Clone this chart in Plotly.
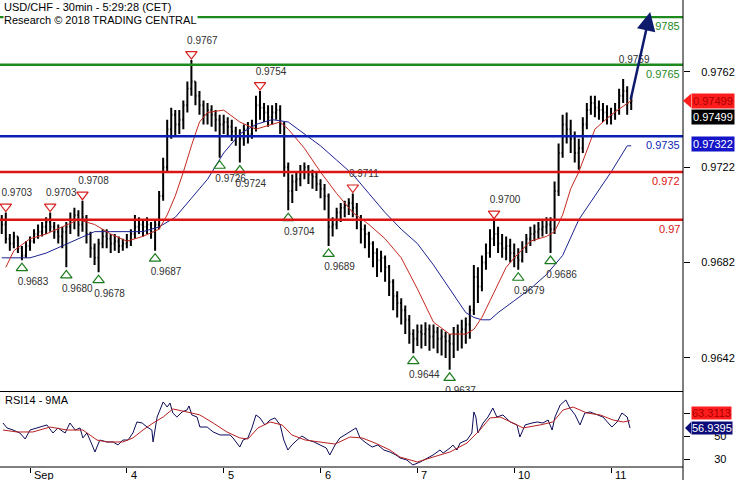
import plotly.graph_objects as go

# ---------------- data (hourly bars, index 0 = 3 Sep 00:00) ----------------
bar_idx = list(range(-7, 150))
first_open_pips = 9700
close_pips = [9698, 9692, 9690, 9693, 9688, 9685, 9689, 9691, 9694, 9695,
              9697, 9699, 9697, 9695, 9693, 9695, 9697, 9700, 9702, 9698,
              9701, 9694, 9688, 9684, 9690, 9693, 9692, 9690, 9691, 9689,
              9690, 9691, 9694, 9697, 9698, 9697, 9698, 9695, 9698, 9710,
              9722, 9738, 9744, 9740, 9742, 9748, 9755, 9758, 9752, 9748,
              9744, 9746, 9744, 9742, 9740, 9741, 9739, 9737, 9735, 9734,
              9738, 9736, 9739, 9748, 9747, 9745, 9743, 9745, 9746, 9740,
              9722, 9712, 9716, 9717, 9720, 9722, 9719, 9718, 9715, 9713,
              9710, 9697, 9698, 9703, 9705, 9706, 9707, 9705, 9700, 9696,
              9694, 9690, 9686, 9683, 9684, 9680, 9674, 9668, 9665, 9662,
              9658, 9652, 9650, 9653, 9652, 9654, 9651, 9653, 9650, 9651,
              9649, 9648, 9652, 9653, 9654, 9656, 9662, 9676, 9672, 9682,
              9686, 9692, 9694, 9690, 9688, 9689, 9686, 9684, 9683, 9688,
              9692, 9694, 9695, 9696, 9697, 9698, 9696, 9712, 9728, 9740,
              9738, 9734, 9728, 9730, 9740, 9746, 9749, 9747, 9746, 9745,
              9743, 9744, 9746, 9752, 9754, 9749, 9749.9]
high_pips = [9702, 9703, 9694, 9695, 9693, 9689, 9691, 9693, 9696, 9698,
             9699, 9701, 9703, 9699, 9698, 9697, 9699, 9703, 9705, 9704,
             9708, 9702, 9695, 9690, 9692, 9696, 9696, 9694, 9694, 9693,
             9692, 9694, 9696, 9702, 9701, 9700, 9701, 9699, 9700, 9712,
             9726, 9742, 9747, 9746, 9746, 9750, 9758, 9767, 9758, 9754,
             9750, 9749, 9748, 9746, 9744, 9744, 9743, 9742, 9739, 9738,
             9740, 9741, 9742, 9752, 9754, 9749, 9748, 9748, 9749, 9748,
             9741, 9724, 9719, 9720, 9723, 9724, 9723, 9721, 9720, 9717,
             9715, 9711, 9701, 9705, 9707, 9708, 9709, 9711, 9707, 9702,
             9698, 9695, 9691, 9688, 9687, 9685, 9681, 9675, 9670, 9667,
             9664, 9660, 9654, 9656, 9656, 9657, 9656, 9656, 9655, 9654,
             9653, 9652, 9655, 9656, 9658, 9659, 9664, 9681, 9680, 9685,
             9690, 9696, 9700, 9697, 9694, 9693, 9692, 9690, 9688, 9691,
             9694, 9697, 9698, 9699, 9700, 9701, 9701, 9716, 9732, 9744,
             9745, 9742, 9737, 9734, 9743, 9749, 9752, 9752, 9750, 9749,
             9748, 9747, 9749, 9755, 9759, 9756, 9752]
low_pips = [9694, 9690, 9687, 9688, 9686, 9683, 9684, 9687, 9690, 9692,
            9693, 9694, 9695, 9692, 9690, 9688, 9680, 9694, 9696, 9693,
            9695, 9690, 9684, 9681, 9678, 9688, 9688, 9686, 9687, 9686,
            9687, 9688, 9689, 9692, 9694, 9693, 9694, 9692, 9687, 9696,
            9708, 9720, 9734, 9735, 9736, 9738, 9745, 9752, 9748, 9744,
            9740, 9740, 9739, 9737, 9726, 9736, 9735, 9733, 9731, 9724,
            9731, 9732, 9734, 9737, 9742, 9741, 9739, 9740, 9742, 9736,
            9718, 9704, 9707, 9712, 9714, 9717, 9715, 9713, 9712, 9709,
            9704, 9689, 9693, 9696, 9699, 9701, 9702, 9701, 9696, 9690,
            9688, 9684, 9680, 9676, 9678, 9674, 9668, 9662, 9659, 9656,
            9652, 9648, 9644, 9647, 9646, 9647, 9645, 9646, 9644, 9643,
            9642, 9637, 9642, 9645, 9646, 9648, 9650, 9660, 9665, 9670,
            9679, 9684, 9689, 9686, 9684, 9683, 9682, 9680, 9679, 9682,
            9686, 9689, 9691, 9692, 9693, 9694, 9686, 9694, 9710, 9726,
            9732, 9728, 9724, 9721, 9728, 9738, 9744, 9743, 9742, 9741,
            9740, 9740, 9742, 9744, 9749, 9744, 9746]

# moving averages drawn on price
fast_ma_x = [-6, -4, 0, 4, 8, 12, 16, 20, 24, 28, 32, 34, 36, 38, 40, 42, 44, 48, 52, 56,
             60, 62, 64, 68, 72, 76, 80, 84, 88, 92, 96, 100, 104, 108, 110, 112, 114, 116,
             118, 120, 124, 128, 130, 132, 134, 136, 138, 140, 144, 148, 149]
fast_ma = [0.9680, 0.9687, 0.9692, 0.9694, 0.9697, 0.9700, 0.9698, 0.9694, 0.9691, 0.9693,
           0.9696, 0.9702, 0.9710, 0.9720, 0.9731, 0.9741, 0.9745, 0.9746, 0.9741, 0.9738,
           0.9740, 0.9741, 0.9738, 0.9730, 0.9720, 0.9711, 0.9703, 0.9698, 0.9692, 0.9684,
           0.9671, 0.9657, 0.9652, 0.9652, 0.9654, 0.9659, 0.9666, 0.9673, 0.9680, 0.9684,
           0.9691, 0.9693, 0.9695, 0.9702, 0.9713, 0.9720, 0.9729, 0.9738, 0.9744, 0.9749,
           0.9750]
slow_ma_x = [-7, -4, 0, 4, 8, 12, 16, 20, 24, 28, 32, 36, 40, 44, 48, 52, 56, 60, 64, 68,
             72, 76, 80, 84, 88, 92, 96, 100, 104, 108, 110, 112, 114, 116, 120, 124, 128,
             132, 136, 140, 144, 148, 149]
slow_ma = [0.9684, 0.9684, 0.9684, 0.9686, 0.9689, 0.9692, 0.9695, 0.9695, 0.9695, 0.9695,
           0.9697, 0.9701, 0.9709, 0.9717, 0.9728, 0.9736, 0.9740, 0.9742, 0.9741, 0.9736,
           0.9731, 0.9725, 0.9719, 0.9711, 0.9703, 0.9696, 0.9690, 0.9681, 0.9671, 0.9661,
           0.9659, 0.9658, 0.9658, 0.9661, 0.9666, 0.9671, 0.9677, 0.9685, 0.9700, 0.9710,
           0.9720, 0.9731, 0.9731]

# RSI14 and its 9MA
rsi_x = [-6.7, -5.7, -4.2, -2.5, -1.2, 0, 2.5, 4.2, 5.7, 6.9,
         8.7, 9.9, 11.2, 12.4, 13.1, 14.1, 15.4, 16.1, 17.3, 19.1,
         20.6, 21.8, 23.0, 24.3, 25.5, 26.5, 27.8, 29.0, 30.2, 30.5,
         31.5, 32.2, 33.0, 34.0, 34.7, 35.4, 36.4, 37.7, 38.9, 39.4,
         40.1, 41.4, 42.1, 43.9, 45.4, 47.1, 49.6, 50.3, 52.0, 52.8,
         54.0, 55.0, 56.0, 57.0, 58.2, 59.5, 60.7, 62.0, 62.9, 63.9,
         64.9, 66.2, 67.4, 68.9, 70.4, 71.9, 73.4, 74.3, 75.6, 76.8,
         78.3, 79.8, 80.8, 81.8, 83.3, 84.8, 86.2, 87.7, 89.2, 90.7,
         91.7, 93.4, 94.9, 96.7, 98.4, 99.9, 101.6, 102.4, 104.1, 104.8,
         105.8, 106.6, 108.3, 109.5, 110.0, 110.5, 111.0, 112.3, 113.5, 114.7,
         115.7, 117.2, 119.0, 120.7, 121.4, 122.7, 124.4, 125.7, 127.1, 128.4,
         129.4, 130.1, 131.4, 132.8, 133.8, 135.1, 136.3, 137.5, 138.8, 140.5,
         142.0, 144.2, 145.5, 146.7, 148.0, 148.7]
rsi = [61.3, 57.0, 55.2, 52.6, 47.4, 55.2, 57.8, 59.6, 52.6, 57.0,
       52.6, 61.3, 55.2, 57.0, 48.3, 52.6, 42.2, 36.1, 46.5, 44.8,
       44.8, 42.2, 46.5, 46.5, 52.6, 62.2, 61.3, 57.8, 55.2, 44.8,
       66.5, 72.6, 79.6, 75.2, 78.7, 70.0, 66.5, 70.9, 72.6, 76.1,
       68.3, 66.5, 57.8, 57.8, 53.5, 50.9, 50.9, 48.3, 40.4, 46.5,
       48.3, 57.0, 68.3, 65.7, 59.6, 63.9, 65.7, 59.6, 46.5, 37.8,
       42.2, 46.5, 50.0, 46.5, 44.8, 42.2, 39.6, 33.5, 42.2, 48.3,
       51.7, 55.2, 57.0, 48.3, 43.9, 40.4, 42.2, 37.8, 36.1, 33.5,
       30.9, 29.1, 24.8, 27.4, 30.9, 33.5, 37.8, 35.2, 39.6, 42.2,
       37.8, 43.9, 46.5, 52.6, 70.9, 66.5, 52.6, 61.3, 66.5, 74.3,
       66.5, 68.3, 62.2, 59.6, 49.1, 59.6, 61.3, 62.2, 61.3, 63.9,
       55.2, 66.5, 77.0, 81.3, 74.3, 68.3, 59.6, 70.0, 70.9, 68.3,
       66.5, 57.8, 62.2, 70.0, 66.5, 56.9395]
rsi_ma_x = [-6.7, -3.2, 0.7, 5.0, 9.2, 13.1, 16.6, 19.1, 23.0, 25.5,
            28.0, 30.5, 33.0, 35.4, 38.9, 42.1, 45.4, 48.8, 52.0, 54.0,
            56.5, 59.5, 62.5, 64.9, 68.2, 71.9, 75.6, 79.3, 82.3, 85.5,
            89.2, 91.7, 96.0, 99.9, 104.1, 108.3, 111.5, 114.0, 116.5, 119.7,
            122.2, 126.4, 129.6, 132.1, 134.6, 138.0, 141.3, 144.5, 147.0, 148.7]
rsi_ma = [55.2, 53.5, 53.5, 57.8, 55.2, 55.2, 46.5, 44.8, 44.8, 48.3,
          55.2, 61.3, 66.5, 73.5, 70.9, 68.3, 61.3, 53.5, 48.3, 47.4,
          57.0, 62.2, 59.6, 50.9, 46.5, 44.8, 43.0, 49.1, 48.3, 43.9,
          37.8, 31.7, 27.4, 31.7, 36.1, 43.9, 55.2, 65.7, 66.5, 61.3,
          57.0, 59.6, 62.2, 72.6, 75.2, 70.0, 68.3, 63.9, 62.2, 63.3113]

# swing highs / lows
hi_idx = [-6, 5, 13, 40, 57, 80, 115]
hi_val = [0.9703, 0.9703, 0.9708, 0.9767, 0.9754, 0.9711, 0.9700]
lo_idx = [-2, 9, 17, 31, 47, 52, 64, 74, 95, 104, 121, 129]
lo_val = [0.9683, 0.9680, 0.9678, 0.9687, 0.9726, 0.9724, 0.9704, 0.9689, 0.9644, 0.9637, 0.9679, 0.9686]
extra_hi_idx = 147
extra_hi_val = 0.9759

# key levels
levels = [0.9785, 0.9765, 0.9735, 0.972, 0.97]
level_text = ["0.9785", "0.9765", "0.9735", "0.972", "0.97"]
level_colors = ["#1e8a1e", "#1e8a1e", "#0c1fb4", "#dc1414", "#dc1414"]

arrow_target_idx = 153.7
arrow_target = 0.97872

price_ticks = [0.9642, 0.9682, 0.9722, 0.9762]
rsi_ticks = [30, 50, 70]
day_pos = [0, 24, 48, 72, 96, 120, 144]
day_labels = ["Sep", "4", "5", "6", "7", "10", "11"]

last_price = 0.97499
slow_last = 0.97322
rsi_last = 56.9395
rsi_ma_last = 63.3113

# ---------------- layout geometry ----------------
W, H = 735, 480
ML, MR, MT, MB = 0, 52, 0, 13
PLOT_W = W - ML - MR            # 683
PLOT_H = H - MT - MB            # 467
MAIN_BOTTOM_PX = 392
RSI_TOP_PX = 391
X_RANGE = [-7.435, 161.83]
Y_RANGE = [0.96277, 0.97922]
RSI_RANGE = [23.04, 89.13]
PX_X = (X_RANGE[1] - X_RANGE[0]) / PLOT_W
PX_Y = (Y_RANGE[1] - Y_RANGE[0]) / MAIN_BOTTOM_PX
PX_R = (RSI_RANGE[1] - RSI_RANGE[0]) / (PLOT_H - RSI_TOP_PX)

FONT = "Liberation Sans, Arial, sans-serif"

opens = [first_open_pips / 10000] + [c / 10000 for c in close_pips[:-1]]
closes = [c / 10000 for c in close_pips]
highs = [h / 10000 for h in high_pips]
lows = [l / 10000 for l in low_pips]

fig = go.Figure()

fig.add_trace(go.Ohlc(
    x=bar_idx, open=opens, high=highs, low=lows, close=closes,
    increasing=dict(line=dict(color="#000000", width=2)),
    decreasing=dict(line=dict(color="#000000", width=2)),
    tickwidth=0.3, hoverinfo="skip", showlegend=False,
    xaxis="x", yaxis="y"))

fig.add_trace(go.Scatter(x=slow_ma_x, y=slow_ma, mode="lines",
                         line=dict(color="#1c2290", width=1), showlegend=False,
                         hoverinfo="skip", xaxis="x", yaxis="y"))
fig.add_trace(go.Scatter(x=fast_ma_x, y=fast_ma, mode="lines",
                         line=dict(color="#c42a20", width=1), showlegend=False,
                         hoverinfo="skip", xaxis="x", yaxis="y"))

# swing markers
fig.add_trace(go.Scatter(
    x=hi_idx, y=[v + 6 * PX_Y for v in hi_val], mode="markers",
    marker=dict(symbol="triangle-down-open", size=10, color="#d82020", line=dict(width=1.2)),
    showlegend=False, hoverinfo="skip", xaxis="x", yaxis="y"))
fig.add_trace(go.Scatter(
    x=lo_idx, y=[v - 8 * PX_Y for v in lo_val], mode="markers",
    marker=dict(symbol="triangle-up-open", size=10, color="#1a7a1a", line=dict(width=1.2)),
    showlegend=False, hoverinfo="skip", xaxis="x", yaxis="y"))
lbl_x = [i + 11 * PX_X for i in hi_idx] + [i + 11 * PX_X for i in lo_idx] + [extra_hi_idx + 11 * PX_X]
lbl_y = ([v + 19 * PX_Y for v in hi_val] + [v - 22 * PX_Y for v in lo_val]
         + [extra_hi_val + 19 * PX_Y])
lbl_t = ["%.4f" % v for v in hi_val] + ["%.4f" % v for v in lo_val] + ["%.4f" % extra_hi_val]
fig.add_trace(go.Scatter(
    x=lbl_x, y=lbl_y, mode="text", text=lbl_t, textposition="middle center",
    textfont=dict(family=FONT, size=10, color="#303030"), cliponaxis=True,
    showlegend=False, hoverinfo="skip", xaxis="x", yaxis="y"))

# RSI
fig.add_trace(go.Scatter(x=rsi_x, y=rsi, mode="lines", line=dict(color="#0c0c5a", width=1),
                         showlegend=False, hoverinfo="skip", xaxis="x2", yaxis="y2"))
fig.add_trace(go.Scatter(x=rsi_ma_x, y=rsi_ma, mode="lines", line=dict(color="#b82020", width=1),
                         showlegend=False, hoverinfo="skip", xaxis="x2", yaxis="y2"))

shapes = []
annotations = []

for lv, txt, col in zip(levels, level_text, level_colors):
    shapes.append(dict(type="line", xref="paper", yref="y", x0=0, x1=1, y0=lv, y1=lv,
                       line=dict(color=col, width=2.4), layer="above"))
    annotations.append(dict(xref="paper", yref="y", x=1, y=lv, xanchor="right", yanchor="top",
                            xshift=-1, yshift=-1, text=txt, showarrow=False,
                            font=dict(family=FONT, size=11, color=col)))

main_bottom_paper = (PLOT_H - MAIN_BOTTOM_PX) / PLOT_H
rsi_top_paper = (PLOT_H - RSI_TOP_PX) / PLOT_H
# frame lines
shapes.append(dict(type="line", xref="paper", yref="paper", x0=0, x1=1,
                   y0=rsi_top_paper - 0.5 / PLOT_H, y1=rsi_top_paper - 0.5 / PLOT_H,
                   line=dict(color="#000000", width=1)))
shapes.append(dict(type="line", xref="paper", yref="paper", x0=0, x1=1, y0=0, y1=0,
                   line=dict(color="#000000", width=1)))
shapes.append(dict(type="line", xref="paper", yref="paper", x0=1, x1=1, y0=-MB / PLOT_H, y1=1,
                   line=dict(color="#000000", width=1)))

# right-side value boxes
box_x = 1 + 8 / PLOT_W
tip_x = 1.0


def pointer(yref, yval, half, tip=tip_x):
    return dict(type="path", xref="paper", yref=yref,
                path="M %f,%f L %f,%f L %f,%f Z" % (tip, yval, box_x, yval + half, box_x, yval - half),
                fillcolor=None, line=dict(width=0), layer="above")


p1 = pointer("y", last_price, 7 * PX_Y)
p1["fillcolor"] = "#ff1c1c"
shapes.append(p1)
annotations.append(dict(xref="paper", yref="y", x=box_x, y=last_price, xanchor="left", yanchor="middle",
                        text="%.5f" % last_price, showarrow=False, bgcolor="#ff1c1c", borderpad=1,
                        font=dict(family=FONT, size=11, color="#a80000")))
annotations.append(dict(xref="paper", yref="y", x=box_x, y=last_price, xanchor="left", yanchor="middle",
                        yshift=-16, text="%.5f" % last_price, showarrow=False, bgcolor="#000000",
                        borderpad=1, font=dict(family=FONT, size=11, color="#ffffff")))
annotations.append(dict(xref="paper", yref="y", x=box_x, y=slow_last, xanchor="left", yanchor="middle",
                        yshift=-1, text="%.5f" % slow_last, showarrow=False, bgcolor="#1414c8",
                        borderpad=1, font=dict(family=FONT, size=11, color="#ffffff")))
p2 = pointer("y2", rsi_last, 6 * PX_R, tip=1 + 2 / PLOT_W)
p2["fillcolor"] = "#0c0c78"
shapes.append(p2)
annotations.append(dict(xref="paper", yref="y2", x=box_x, y=rsi_last, xanchor="left", yanchor="middle",
                        text="%.4f" % rsi_last, showarrow=False, bgcolor="#0c0c78", borderpad=0,
                        font=dict(family=FONT, size=11, color="#ffffff")))
annotations.append(dict(xref="paper", yref="y2", x=box_x, y=rsi_ma_last, xanchor="left", yanchor="middle",
                        yshift=8, text="%.4f" % rsi_ma_last, showarrow=False, bgcolor="#ff1c1c",
                        borderpad=0, font=dict(family=FONT, size=11, color="#a80000")))

# projection arrow
annotations.append(dict(xref="x", yref="y", x=arrow_target_idx, y=arrow_target,
                        axref="x", ayref="y", ax=bar_idx[-1] - 0.2, ay=last_price,
                        text="", showarrow=True, arrowhead=2, arrowsize=1.5, arrowwidth=2.5,
                        arrowcolor="#0e1a6c", standoff=0))

# titles
annotations.append(dict(xref="paper", yref="paper", x=3 / PLOT_W, y=(PLOT_H - 7) / PLOT_H,
                        xanchor="left", yanchor="middle", text="USD/CHF - 30min - 5:29:28 (CET)",
                        showarrow=False, borderpad=0,
                        font=dict(family=FONT, size=11, color="#000000")))
annotations.append(dict(xref="paper", yref="paper", x=3 / PLOT_W, y=(PLOT_H - 20) / PLOT_H,
                        xanchor="left", yanchor="middle", text="Research © 2018 TRADING CENTRAL",
                        showarrow=False, bgcolor="#ffffff", borderpad=0,
                        font=dict(family=FONT, size=11, color="#000000")))
annotations.append(dict(xref="paper", yref="paper", x=3 / PLOT_W, y=(PLOT_H - 400) / PLOT_H,
                        xanchor="left", yanchor="middle", text="RSI14 - 9MA", showarrow=False,
                        font=dict(family=FONT, size=11, color="#000000")))

# day labels
for dp, dl in zip(day_pos, day_labels):
    annotations.append(dict(xref="x2", yref="paper", x=dp + 2 * PX_X, y=(PLOT_H - 475) / PLOT_H,
                            xanchor="left", yanchor="middle", text=dl, showarrow=False,
                            font=dict(family=FONT, size=11, color="#000000")))

fig.update_layout(
    width=W, height=H, margin=dict(l=ML, r=MR, t=MT, b=MB),
    paper_bgcolor="#ffffff", plot_bgcolor="#ffffff", showlegend=False,
    shapes=shapes, annotations=annotations,
    xaxis=dict(domain=[0, 1], range=X_RANGE, anchor="y", showticklabels=False, ticks="",
               showgrid=False, zeroline=False, showline=False, rangeslider=dict(visible=False),
               fixedrange=True),
    yaxis=dict(domain=[main_bottom_paper, 1], range=Y_RANGE, side="right", anchor="x",
               tickvals=price_ticks, ticktext=["%.4f" % t for t in price_ticks],
               ticks="outside", ticklen=6, tickcolor="#000000", showgrid=False, zeroline=False,
               showline=False, ticklabelstandoff=9,
               tickfont=dict(family=FONT, size=11, color="#000000")),
    xaxis2=dict(domain=[0, 1], range=X_RANGE, anchor="y2", tickvals=day_pos, ticktext=day_labels,
                showticklabels=False, ticks="outside", ticklen=5, tickcolor="#000000",
                showgrid=False, zeroline=False, showline=False),
    yaxis2=dict(domain=[0, rsi_top_paper], range=RSI_RANGE, side="right", anchor="x2",
                tickvals=rsi_ticks, ticktext=[str(t) for t in rsi_ticks],
                ticks="outside", ticklen=6, tickcolor="#000000", showgrid=False, zeroline=False,
                showline=False, ticklabelstandoff=22,
                tickfont=dict(family=FONT, size=11, color="#000000")),
)

fig.write_html("out.html", config={"displayModeBar": False},
               post_script="document.body.style.margin='0px';document.body.style.overflow='hidden';")
